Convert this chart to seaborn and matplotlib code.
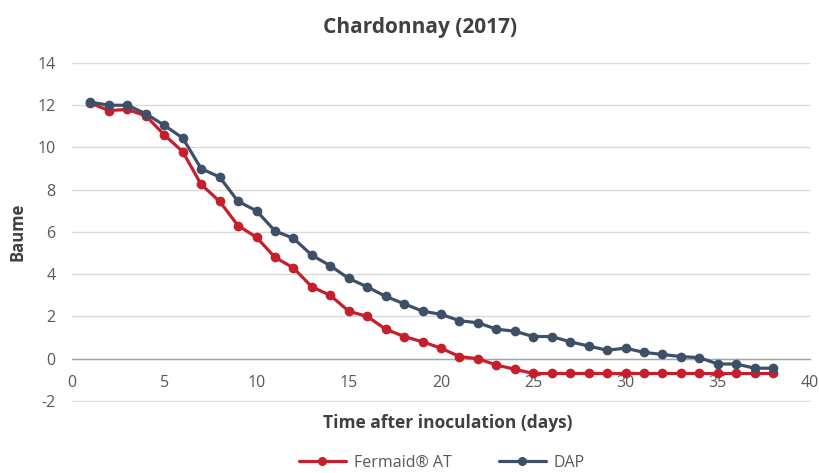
import numpy as np
import pandas as pd
import matplotlib
matplotlib.use("Agg")
import matplotlib.pyplot as plt
import seaborn as sns

days = list(range(1, 39))
fermaid_at = [12.1, 11.75, 11.8, 11.5, 10.6, 9.8, 8.25, 7.45, 6.3, 5.75,
              4.8, 4.3, 3.4, 3.0, 2.25, 2.0, 1.4, 1.05, 0.8, 0.5,
              0.1, 0.0, -0.3, -0.5, -0.7, -0.7, -0.7, -0.7, -0.7, -0.7,
              -0.7, -0.7, -0.7, -0.7, -0.7, -0.7, -0.7, -0.7]
dap = [12.15, 12.0, 12.0, 11.6, 11.05, 10.45, 9.0, 8.6, 7.45, 7.0,
       6.05, 5.7, 4.9, 4.4, 3.8, 3.4, 2.95, 2.6, 2.25, 2.1,
       1.8, 1.7, 1.4, 1.3, 1.05, 1.05, 0.8, 0.6, 0.4, 0.5,
       0.3, 0.2, 0.1, 0.05, -0.25, -0.25, -0.45, -0.45]
series_names = ["Fermaid® AT", "DAP"]
colors = ["#c61f2b", "#3d5068"]
y_ticks = [-2, 0, 2, 4, 6, 8, 10, 12, 14]
x_ticks = [0, 5, 10, 15, 20, 25, 30, 35, 40]

df = pd.DataFrame({
    "day": days * 2,
    "baume": fermaid_at + dap,
    "series": [series_names[0]] * len(days) + [series_names[1]] * len(days),
})

sns.set_theme(style="white")
plt.rcParams["font.family"] = ["Open Sans", "DejaVu Sans"]
plt.rcParams["axes.unicode_minus"] = False

fig = plt.figure(figsize=(8.2, 4.73), dpi=100)
ax = fig.add_axes([72 / 820, 1 - 402 / 473, (810 - 72) / 820, (402 - 63) / 473])

sns.lineplot(data=df, x="day", y="baume", hue="series", palette=colors,
             marker="o", markersize=7, markeredgewidth=0, linewidth=2.3,
             ax=ax, legend=False, zorder=3)

ax.set_xlim(0, 40)
ax.set_ylim(-2.05, 14)
ax.set_yticks(y_ticks)
ax.set_xticks(x_ticks)
ax.grid(axis="y", color="#d9d9d9", linewidth=1)
ax.set_axisbelow(True)
for s in ["top", "right", "left"]:
    ax.spines[s].set_visible(False)
ax.spines["bottom"].set_position(("data", 0))
ax.spines["bottom"].set_color("#a6a6a6")
ax.spines["bottom"].set_linewidth(1)
ax.tick_params(axis="both", length=0, labelsize=11.5, colors="#595959")
ax.tick_params(axis="y", pad=12)
ax.tick_params(axis="x", pad=12)
ax.set_xlabel("")
ax.set_ylabel("")

fig.text(420 / 820, 1 - 27 / 473, "Chardonnay (2017)", ha="center", va="center",
         fontsize=15, fontweight="bold", color="#404040")
fig.text(18 / 820, 1 - 232 / 473, "Baume", ha="center", va="center", rotation=90,
         fontsize=12, fontweight="bold", color="#404040")
fig.text(448 / 820, 1 - 423 / 473, "Time after inoculation (days)", ha="center",
         va="center", fontsize=12.5, fontweight="bold", color="#404040")

handles = [plt.Line2D([0], [0], color=c, marker="o", markersize=6.5, linewidth=2.3,
                      markeredgewidth=0) for c in colors]
fig.legend(handles, series_names, loc="center", bbox_to_anchor=(442 / 820, 1 - 463 / 473),
           ncol=2, frameon=False, fontsize=11.5, handlelength=2.9, columnspacing=3.0,
           handletextpad=0.5, labelcolor="#595959")

fig.savefig("out.png", dpi=100)
